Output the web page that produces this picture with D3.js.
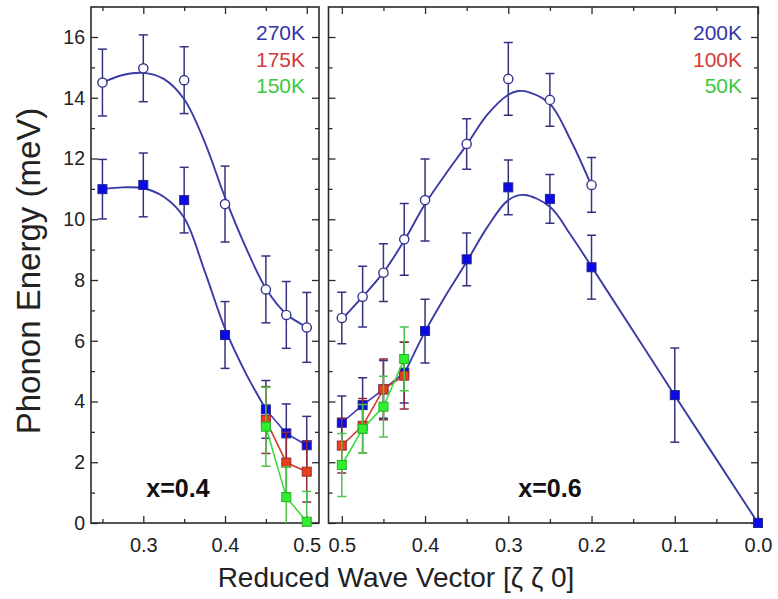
<!DOCTYPE html>
<html>
<head>
<meta charset="utf-8">
<script src="https://cdn.jsdelivr.net/npm/d3@7/dist/d3.min.js"></script>
<style>
  body { margin: 0; background: #fff; }
  svg { display: block; }
  text { font-family: "Liberation Sans", Arial, Helvetica, sans-serif; }
</style>
</head>
<body>
<svg id="chart" width="778" height="599"></svg>
<script>
// ---------- x = 0.4 panel ----------
const leftOpenQ   = [0.25, 0.3, 0.35, 0.4, 0.45, 0.475, 0.5];
const leftOpenE   = [14.5, 14.97, 14.58, 10.5, 7.69, 6.85, 6.44];
const leftOpenErr = [1.1, 1.1, 1.1, 1.25, 1.1, 1.1, 1.15];

const leftFilledQ   = [0.25, 0.3, 0.35, 0.4];
const leftFilledE   = [10.99, 11.13, 10.63, 6.19];
const leftFilledErr = [0.98, 1.05, 1.08, 1.1];

const leftUpperFitQ = [0.25, 0.275, 0.3, 0.325, 0.35, 0.375, 0.4, 0.425, 0.45, 0.475, 0.5];
const leftUpperFitE = [14.5, 14.75, 14.82, 14.62, 13.95, 12.55, 10.72, 9.1, 7.72, 6.88, 6.45];
const leftLowerFitQ = [0.25, 0.275, 0.3, 0.325, 0.35, 0.375, 0.4, 0.425, 0.45];
const leftLowerFitE = [11.0, 11.05, 11.02, 10.74, 10.05, 8.3, 6.4, 4.95, 3.74];

const leftTempQ = [0.45, 0.475, 0.5];
const e270 = [3.74, 2.95, 2.56], err270 = [0.95, 0.97, 0.95];
const e175 = [3.39, 1.99, 1.69], err175 = [1.1, 1.0, 1.0];
const e150 = [3.17, 0.85, 0.04], err150 = [1.3, 1.0, 1.0];

// ---------- x = 0.6 panel ----------
const rightOpenQ   = [0.5, 0.475, 0.45, 0.425, 0.4, 0.35, 0.3, 0.25, 0.2];
const rightOpenE   = [6.75, 7.45, 8.24, 9.34, 10.63, 12.48, 14.62, 13.93, 11.13];
const rightOpenErr = [0.85, 1.0, 0.95, 1.18, 1.35, 0.83, 1.2, 0.87, 0.9];

const rightFilledQ   = [0.4, 0.35, 0.3, 0.25, 0.2, 0.1, 0.0];
const rightFilledE   = [6.32, 8.68, 11.05, 10.67, 8.42, 4.21, 0];
const rightFilledErr = [1.05, 0.87, 0.9, 0.8, 1.05, 1.55, 0];

const rightUpperFitQ = [0.5, 0.475, 0.45, 0.425, 0.4, 0.375, 0.35, 0.325, 0.3, 0.288, 0.275, 0.25, 0.225, 0.2];
const rightUpperFitE = [6.7, 7.45, 8.25, 9.3, 10.5, 11.5, 12.45, 13.45, 14.1, 14.22, 14.18, 13.8, 12.6, 11.1];
const rightLowerFitQ = [0.425, 0.4, 0.375, 0.35, 0.325, 0.3, 0.281, 0.25, 0.225, 0.2, 0.1, 0.0];
const rightLowerFitE = [4.9, 6.3, 7.5, 8.6, 9.75, 10.63, 10.8, 10.41, 9.48, 8.44, 4.2, 0];

const rightTempQ = [0.5, 0.475, 0.45, 0.425];
const e200 = [3.3, 3.88, 4.4, 4.95],  err200 = [0.88, 0.9, 0.95, 1.0];
const e100 = [2.55, 3.2, 4.4, 4.85],  err100 = [0.9, 0.9, 1.0, 1.1];
const e50  = [1.91, 3.1, 3.83, 5.4],  err50  = [1.04, 0.8, 1.0, 1.05];

// tick labels
const yTicks = [0, 2, 4, 6, 8, 10, 12, 14, 16];
const leftXTicks = [0.3, 0.4, 0.5];
const rightXTicks = [0.5, 0.4, 0.3, 0.2, 0.1, 0.0];
const leftLegend = ["270K", "175K", "150K"];
const rightLegend = ["200K", "100K", "50K"];

// ---------- styles ----------
const FIT = "#3b3ba6";
const styleBlue  = { line: "#3a3ab8", fill: "#0a0ae6", edge: "#25258a", err: "#33337f" };
const styleRed   = { line: "#d23a30", fill: "#e8401c", edge: "#a02a2a", err: "#8e2a3a" };
const styleGreen = { line: "#3ddc3d", fill: "#30ee30", edge: "#24b024", err: "#4cc24c" };
const legendColors = ["#3434a8", "#d03a3a", "#3cc83c"];

const svg = d3.select("#chart");
const plotTop = 7, plotBottom = 523;
const y = d3.scaleLinear().domain([0, 17]).range([plotBottom, plotBottom - 17 * 30.375]);

const xL = d3.scaleLinear().domain([0.236, 0.515]).range([91, 319]);
const xR = d3.scaleLinear().domain([0.516, 0.0]).range([328.5, 758]);

function panel(x, id, xMajor, xMinor, showY) {
  const [x0, x1] = x.range();
  const g = svg.append("g");
  g.append("clipPath").attr("id", id)
    .append("rect").attr("x", x0).attr("y", plotTop).attr("width", x1 - x0).attr("height", plotBottom - plotTop);

  const yMinor = d3.range(1, 17, 2);
  // bottom axis
  const bx = g.append("g").attr("transform", `translate(0,${plotBottom})`)
    .call(d3.axisBottom(x).tickValues(xMajor).tickSize(-7).tickPadding(15).tickFormat(d3.format(".1f")));
  bx.selectAll("text").style("font-size", "20px");
  g.append("g").attr("transform", `translate(0,${plotBottom})`)
    .call(d3.axisBottom(x).tickValues(xMinor).tickSize(-4).tickFormat(""));
  // top axis
  g.append("g").attr("transform", `translate(0,${plotTop})`)
    .call(d3.axisTop(x).tickValues(xMajor).tickSize(-7).tickFormat(""));
  g.append("g").attr("transform", `translate(0,${plotTop})`)
    .call(d3.axisTop(x).tickValues(xMinor).tickSize(-4).tickFormat(""));
  // left axis
  const ly = g.append("g").attr("transform", `translate(${x0},0)`)
    .call(d3.axisLeft(y).tickValues(yTicks).tickSize(-7).tickPadding(6)
      .tickFormat(showY ? d3.format("d") : ""));
  ly.selectAll("text").style("font-size", "19.5px");
  g.append("g").attr("transform", `translate(${x0},0)`)
    .call(d3.axisLeft(y).tickValues(yMinor).tickSize(-4).tickFormat(""));
  // right axis
  g.append("g").attr("transform", `translate(${x1},0)`)
    .call(d3.axisRight(y).tickValues(yTicks).tickSize(-7).tickFormat(""));
  g.append("g").attr("transform", `translate(${x1},0)`)
    .call(d3.axisRight(y).tickValues(yMinor).tickSize(-4).tickFormat(""));

  g.selectAll(".domain").attr("stroke", "none");
  g.selectAll(".tick line").attr("stroke", "#2a2a2a").attr("stroke-width", 1.3);
  g.selectAll(".tick text").attr("fill", "#222")
    .style("font-family", '"Liberation Sans", Arial, sans-serif');

  g.append("rect").attr("x", x0).attr("y", plotTop).attr("width", x1 - x0).attr("height", plotBottom - plotTop)
    .attr("fill", "none").attr("stroke", "#2a2a2a").attr("stroke-width", 1.6);
  return g;
}

const gL = panel(xL, "clipL", leftXTicks, [0.25, 0.35, 0.45], true);
const gR = panel(xR, "clipR", rightXTicks, [0.45, 0.35, 0.25, 0.15, 0.05], false);

function fitLine(g, x, clip, qs, es, color) {
  const pts = qs.map((q, i) => [x(q), y(es[i])]);
  g.append("path").attr("d", d3.line().curve(d3.curveCatmullRom.alpha(0.5))(pts))
    .attr("fill", "none").attr("stroke", color).attr("stroke-width", 1.9)
    .attr("clip-path", `url(#${clip})`);
}

function errorBars(g, x, clip, qs, es, errs, color) {
  const eg = g.append("g").attr("clip-path", `url(#${clip})`)
    .attr("stroke", color).attr("stroke-width", 1.5).attr("fill", "none");
  qs.forEach((q, i) => {
    if (!errs[i]) return;
    const cx = x(q), y1 = y(es[i] + errs[i]), y2 = y(es[i] - errs[i]);
    eg.append("line").attr("x1", cx).attr("x2", cx).attr("y1", y1).attr("y2", y2);
    eg.append("line").attr("x1", cx - 4.5).attr("x2", cx + 4.5).attr("y1", y1).attr("y2", y1);
    eg.append("line").attr("x1", cx - 4.5).attr("x2", cx + 4.5).attr("y1", y2).attr("y2", y2);
  });
}

function squares(g, x, qs, es, st) {
  g.append("g").selectAll("rect").data(qs).join("rect")
    .attr("x", q => x(q) - 4.5).attr("y", (q, i) => y(es[i]) - 4.5)
    .attr("width", 9).attr("height", 9)
    .attr("fill", st.fill).attr("stroke", st.edge).attr("stroke-width", 1);
}

function circles(g, x, qs, es) {
  g.append("g").selectAll("circle").data(qs).join("circle")
    .attr("cx", q => x(q)).attr("cy", (q, i) => y(es[i])).attr("r", 4.6)
    .attr("fill", "#fff").attr("stroke", "#35358f").attr("stroke-width", 1.4);
}

function tempSeries(g, x, clip, qs, es, errs, st) {
  errorBars(g, x, clip, qs, es, errs, st.err);
  g.append("path").attr("d", d3.line()(qs.map((q, i) => [x(q), y(es[i])])))
    .attr("fill", "none").attr("stroke", st.line).attr("stroke-width", 1.6)
    .attr("clip-path", `url(#${clip})`);
  squares(g, x, qs, es, st);
}

// x = 0.4 panel marks
errorBars(gL, xL, "clipL", leftOpenQ, leftOpenE, leftOpenErr, styleBlue.err);
errorBars(gL, xL, "clipL", leftFilledQ, leftFilledE, leftFilledErr, styleBlue.err);
fitLine(gL, xL, "clipL", leftUpperFitQ, leftUpperFitE, FIT);
fitLine(gL, xL, "clipL", leftLowerFitQ, leftLowerFitE, FIT);
tempSeries(gL, xL, "clipL", leftTempQ, e270, err270, styleBlue);
tempSeries(gL, xL, "clipL", leftTempQ, e175, err175, styleRed);
tempSeries(gL, xL, "clipL", leftTempQ, e150, err150, styleGreen);
circles(gL, xL, leftOpenQ, leftOpenE);
squares(gL, xL, leftFilledQ, leftFilledE, styleBlue);

// x = 0.6 panel marks
errorBars(gR, xR, "clipR", rightOpenQ, rightOpenE, rightOpenErr, styleBlue.err);
errorBars(gR, xR, "clipR", rightFilledQ, rightFilledE, rightFilledErr, styleBlue.err);
fitLine(gR, xR, "clipR", rightUpperFitQ, rightUpperFitE, FIT);
fitLine(gR, xR, "clipR", rightLowerFitQ, rightLowerFitE, FIT);
tempSeries(gR, xR, "clipR", rightTempQ, e200, err200, styleBlue);
tempSeries(gR, xR, "clipR", rightTempQ, e100, err100, styleRed);
tempSeries(gR, xR, "clipR", rightTempQ, e50, err50, styleGreen);
circles(gR, xR, rightOpenQ, rightOpenE);
squares(gR, xR, rightFilledQ, rightFilledE, styleBlue);

// legends
function legend(labels, xRight) {
  labels.forEach((t, i) => {
    svg.append("text").attr("x", xRight).attr("y", 40 + i * 26.5)
      .attr("text-anchor", "end").attr("fill", legendColors[i])
      .style("font-size", "21px").text(t);
  });
}
legend(leftLegend, 305);
legend(rightLegend, 742);

// panel labels
svg.append("text").attr("x", 178).attr("y", 497).attr("text-anchor", "middle")
  .style("font-size", "25px").style("font-weight", "bold").attr("fill", "#111").text("x=0.4");
svg.append("text").attr("x", 550).attr("y", 497).attr("text-anchor", "middle")
  .style("font-size", "25px").style("font-weight", "bold").attr("fill", "#111").text("x=0.6");

// axis titles
svg.append("text").attr("transform", "translate(40,271) rotate(-90)")
  .attr("text-anchor", "middle").style("font-size", "33px").attr("fill", "#222")
  .text("Phonon Energy (meV)");
svg.append("text").attr("x", 396).attr("y", 587).attr("text-anchor", "middle")
  .style("font-size", "28px").attr("fill", "#222")
  .text("Reduced Wave Vector [ζ ζ 0]");
</script>
</body>
</html>
